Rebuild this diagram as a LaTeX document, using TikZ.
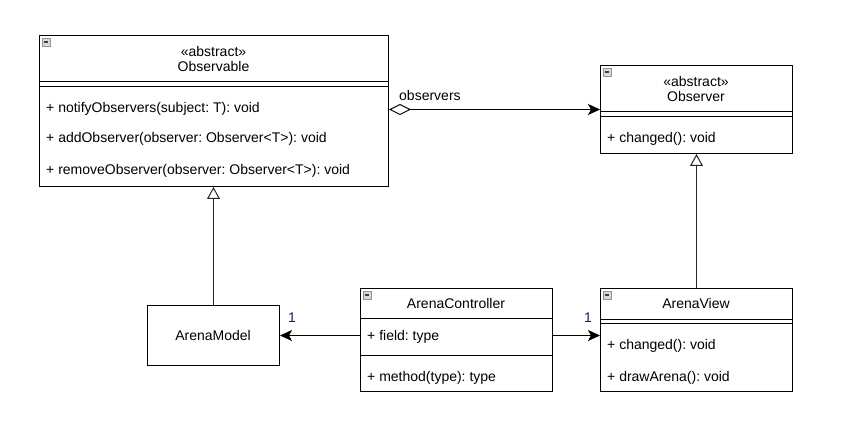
\documentclass[tikz,border=0pt]{standalone}
\usepackage{fontspec}
\setmainfont{Liberation Sans}
\usetikzlibrary{arrows.meta}
\definecolor{lblblue}{RGB}{20,30,90}
\frenchspacing
\begin{document}
\frenchspacing
\begin{tikzpicture}[x=1pt,y=-1pt,
  umlbox/.style={draw=black, line width=1pt, rectangle, anchor=north west, inner sep=0pt, fill=white},
  sepline/.style={draw=black, line width=1pt},
  txt/.style={inner sep=0pt, anchor=base west, font=\fontsize{14}{16}\selectfont},
  ctxt/.style={inner sep=0pt, anchor=base, font=\fontsize{14}{16}\selectfont},
  assoc/.style={draw=black, line width=1pt, -{Stealth[length=12pt,width=11pt,inset=3pt]}},
  aggr/.style={draw=black, line width=1pt, {Diamond[fill=white,length=22pt,width=11pt]}-{Stealth[length=12pt,width=11pt,inset=3pt]}},
  inherit/.style={draw=black!85, line width=1pt, -{Triangle[fill=white,length=12pt,width=13pt]}},
  collapse/.pic={
    \filldraw[fill=gray!30, draw=gray!85, line width=0.8pt] (0,0) rectangle (8,8);
    \draw[black!75, line width=1.4pt] (1.8,4) -- (6.2,4);
  }
]
\useasboundingbox (0,0) rectangle (849,443);

% Observable
\node[umlbox, minimum width=349pt, minimum height=151pt] (obs) at (39,35) {};
\draw[sepline] (39,82) -- (388,82);
\draw[sepline] (39,87) -- (388,87);
\pic at (42,38) {collapse};
\node[ctxt] (obsster) at (213.5,57) {«abstract»};
\node[ctxt] (obsname) at (213.5,72) {Observable};
\node[txt] (obsm1) at (46,113) {+ notifyObservers(subject: T): void};
\node[txt] (obsm2) at (46,143) {+ addObserver(observer: Observer<T>): void};
\node[txt] (obsm3) at (46,175) {+ removeObserver(observer: Observer<T>): void};

% Observer
\node[umlbox, minimum width=192pt, minimum height=88pt] (obsr) at (600,65) {};
\draw[sepline] (600,112) -- (792,112);
\draw[sepline] (600,117) -- (792,117);
\pic at (603,68) {collapse};
\node[ctxt] (obsrster) at (696,87) {«abstract»};
\node[ctxt] (obsrname) at (696,102) {Observer};
\node[txt] (obsrm1) at (607,143) {+ changed(): void};

% ArenaModel
\node[umlbox, minimum width=132pt, minimum height=60pt] (model) at (147,305) {};
\node[ctxt] (modelname) at (213,341) {ArenaModel};

% ArenaController
\node[umlbox, minimum width=192pt, minimum height=103pt] (ctrl) at (360,288) {};
\draw[sepline] (360,319) -- (552,319);
\draw[sepline] (360,356) -- (552,356);
\pic at (363,291) {collapse};
\node[ctxt] (ctrlname) at (456,309) {ArenaController};
\node[txt] (ctrlf) at (367,341) {+ field: type};
\node[txt] (ctrlm) at (367,382) {+ method(type): type};

% ArenaView
\node[umlbox, minimum width=192pt, minimum height=103pt] (view) at (600,288) {};
\draw[sepline] (600,320) -- (792,320);
\draw[sepline] (600,324) -- (792,324);
\pic at (603,291) {collapse};
\node[ctxt] (viewname) at (696,309) {ArenaView};
\node[txt] (viewm1) at (607,350) {+ changed(): void};
\node[txt] (viewm2) at (607,382) {+ drawArena(): void};

% connectors
\draw[aggr] (obs.east |- obsr.west) -- (obsr.west);
\node[txt] (lblobs) at (399,101) {observers};
\draw[inherit] (model.north) -- (model.north |- obs.south);
\draw[inherit] (view.north) -- (view.north |- obsr.south);
\draw[assoc] (ctrl.west |- model.east) -- (model.east);
\draw[assoc] (ctrl.east |- model.east) -- (view.west |- model.east);
\node[ctxt, text=lblblue] (lbl1a) at (292,323) {1};
\node[ctxt, text=lblblue] (lbl1b) at (588,323) {1};
\end{tikzpicture}
\end{document}
